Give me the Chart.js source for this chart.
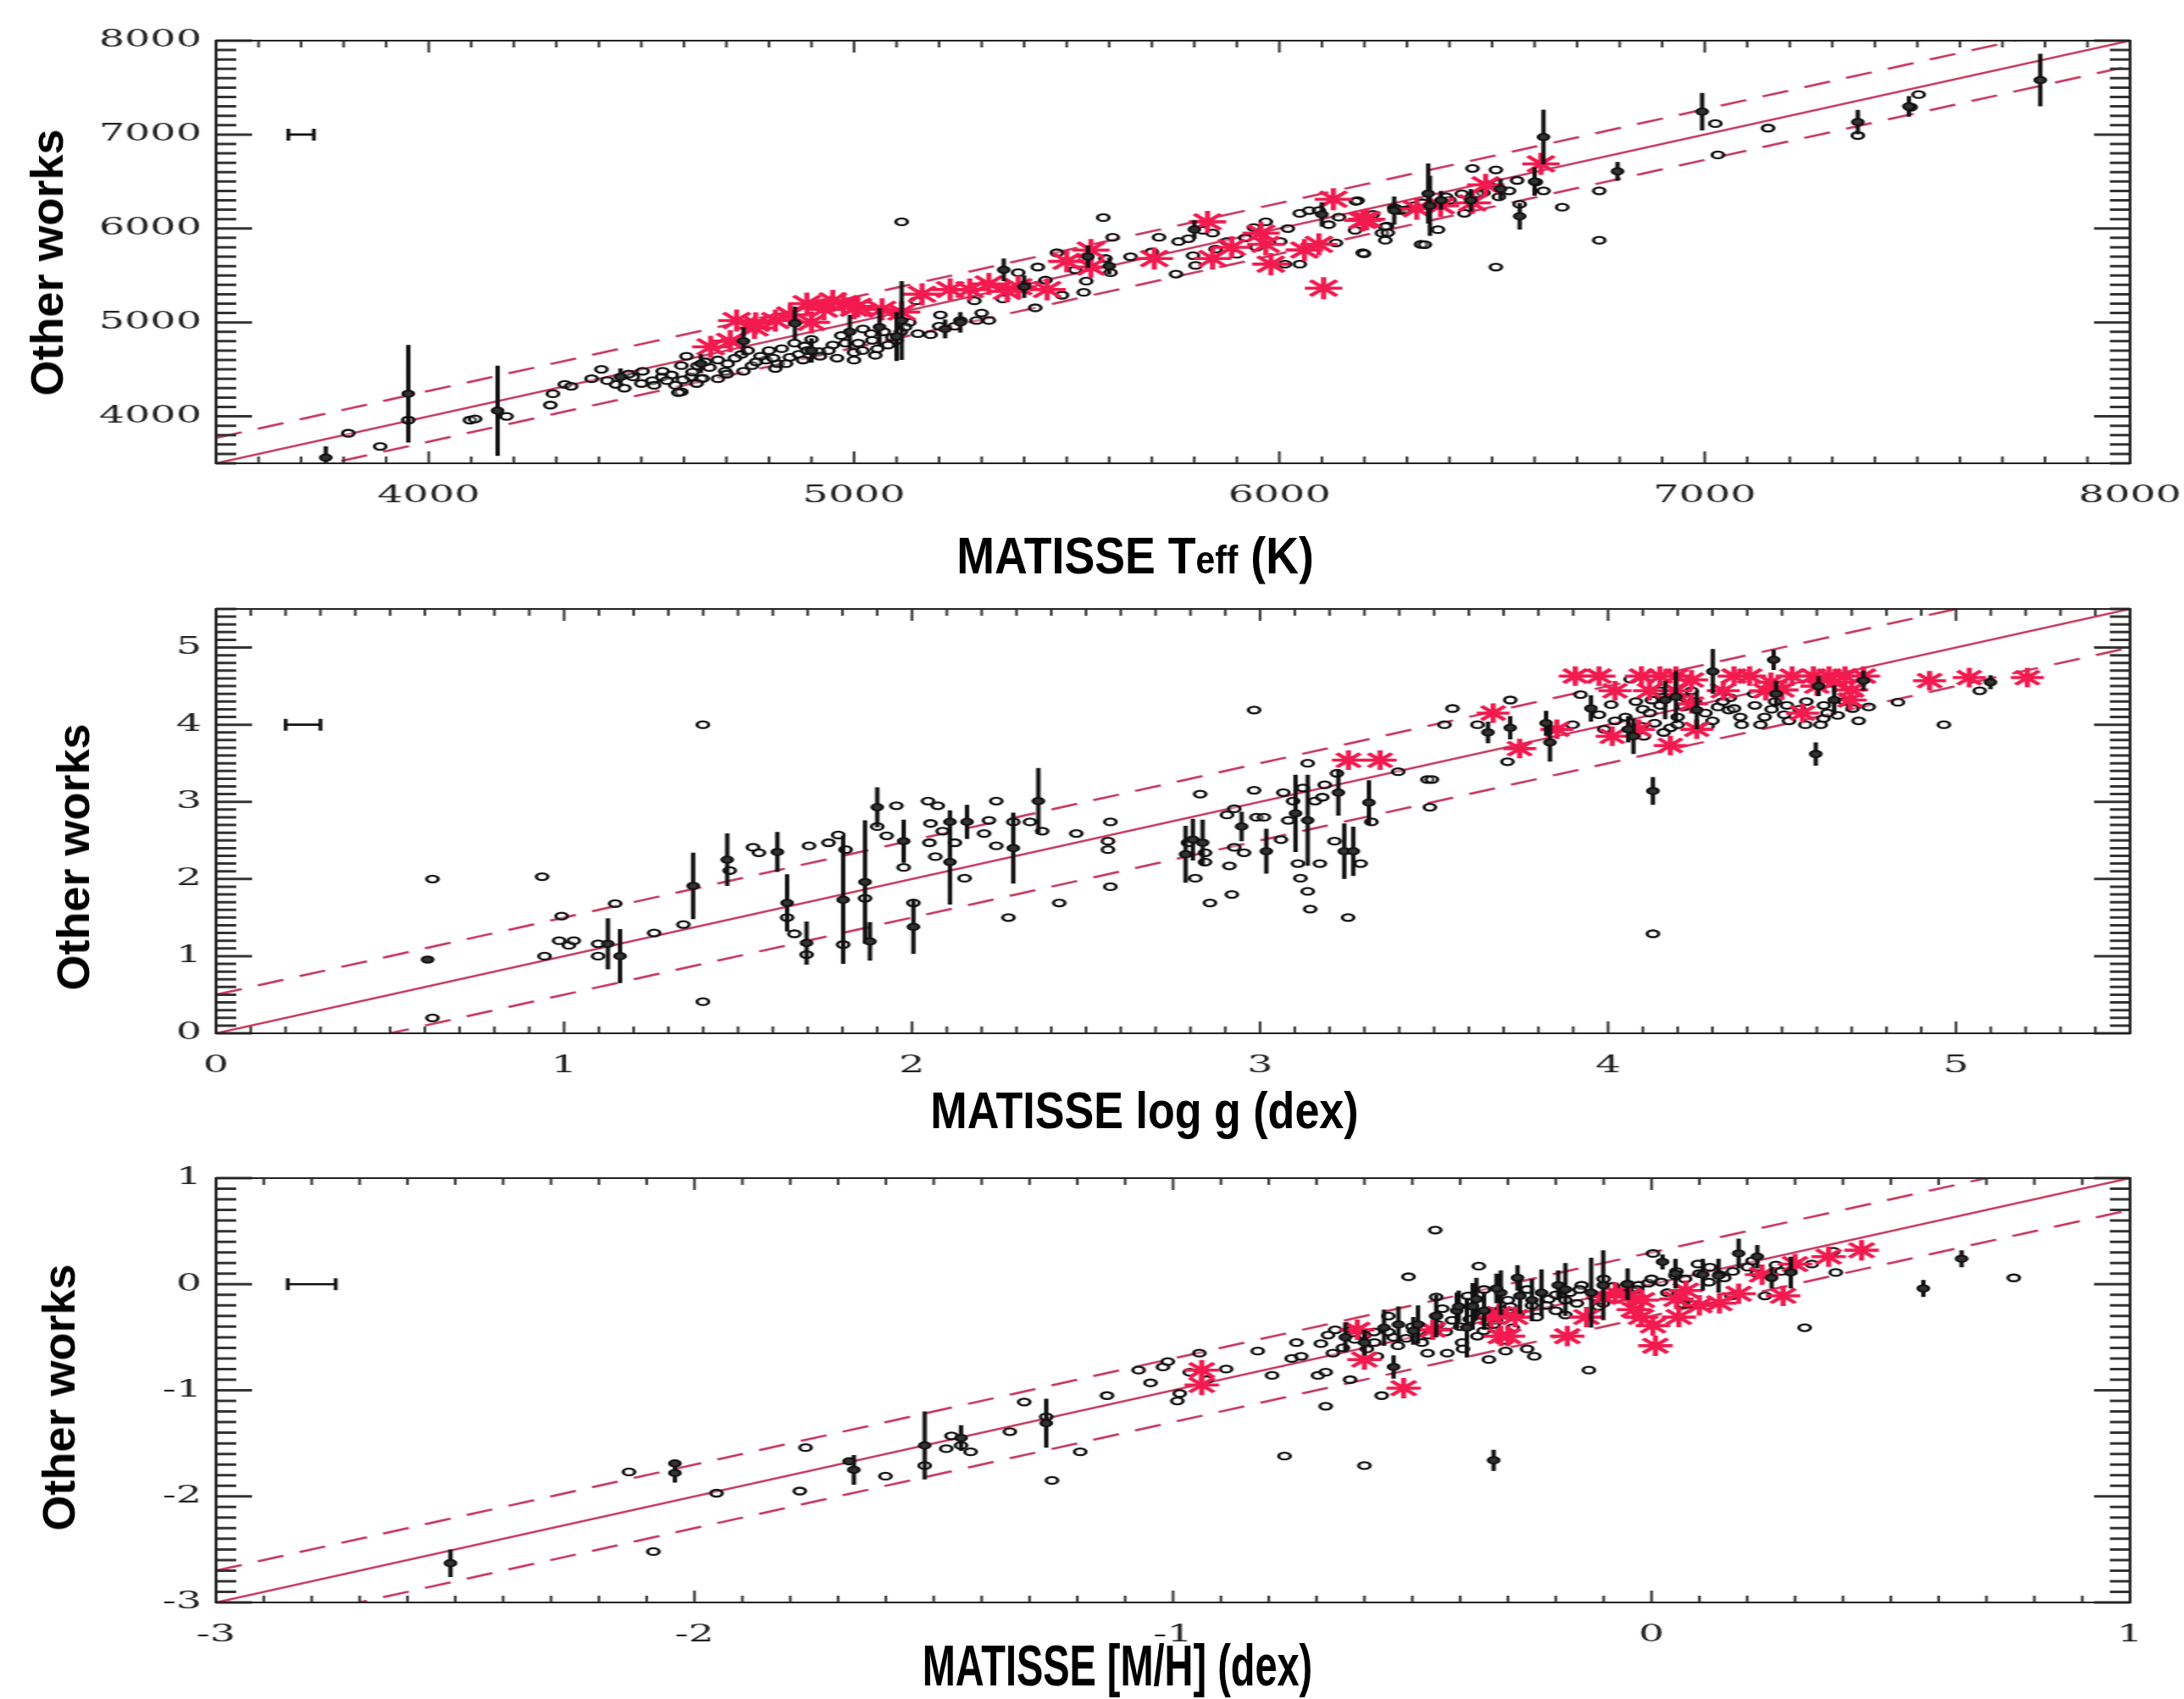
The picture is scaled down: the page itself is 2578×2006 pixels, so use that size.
<!DOCTYPE html>
<html><head><meta charset="utf-8">
<script src="https://cdn.jsdelivr.net/npm/chart.js@4.4.0/dist/chart.umd.min.js"></script>
<style>
html,body{margin:0;padding:0;background:#fff;}
body{width:2578px;height:2006px;position:relative;overflow:hidden;}
#stretch{position:absolute;left:0;top:0;width:1517px;height:2006px;transform:scaleX(1.7);transform-origin:0 0;}
#stretch canvas{position:absolute;left:0;}
.t{position:absolute;font-family:"Liberation Sans",Arial,Helvetica,sans-serif;font-weight:bold;color:#000;white-space:nowrap;line-height:1;}
.t sub{font-size:0.76em;vertical-align:baseline;}
</style></head><body>
<div id="stretch">
<canvas id="c1" width="1516" height="629" style="top:8px"></canvas>
<canvas id="c2" width="1516" height="631" style="top:679px"></canvas>
<canvas id="c3" width="1516" height="631" style="top:1351px"></canvas>
</div>
<div class="t" style="left:55px;top:310px;font-size:54px;transform:translate(-50%,-50%) rotate(-90deg)">Other works</div>
<div class="t" style="left:86px;top:1012px;font-size:54px;transform:translate(-50%,-50%) rotate(-90deg)">Other works</div>
<div class="t" style="left:69px;top:1650px;font-size:54px;transform:translate(-50%,-50%) rotate(-90deg)">Other works</div>
<div class="t" style="left:1340px;top:656px;font-size:61px;transform:translate(-50%,-50%) scaleX(0.88)">MATISSE T<sub>eff</sub> (K)</div>
<div class="t" style="left:1351px;top:1311px;font-size:62px;transform:translate(-50%,-50%) scaleX(0.84)">MATISSE log g (dex)</div>
<div class="t" style="left:1319px;top:1966px;font-size:68px;transform:translate(-50%,-50%) scaleX(0.69)">MATISSE [M/H] (dex)</div>
<script>
// ---------------- DATA ----------------
// Panel 1: Teff (K)
const teffRange = [3500, 8000];
const teffTicks = [4000, 5000, 6000, 7000, 8000];
const teffBand = 270;
const teffKey = [[3700, 7000, 30]];
const teffCircles = [[3811,3820],[3886,3680],[3952,3960],[4097,3960],[4109,3972],[4183,4000],[4286,4120],[4292,4240],[4320,4340],[4335,4320],[4383,4400],[4406,4500],[4480,4420],[4503,4480],[4526,4380],[4549,4420],[4571,4440],[4594,4260],[4594,4540],[4606,4640],[4617,4420],[4640,4400],[4697,4480],[4703,4560],
[4440,4340],[4460,4300],[4530,4330],[4560,4380],[4620,4470],[4660,4520],[4680,4400],
[4587,4253],[4598,4389],[4632,4539],[4644,4404],[4701,4449],[4735,4659],[4792,4599],[4815,4509],[4849,4629],[4884,4749],[4918,4689],[5000,4599],[5021,4930],[5043,4809],[5055,4719],[5100,4809],[5146,5230],[5180,4869],[5203,5080],[5237,4960],[5288,5020],[5317,5020],[5283,5230],[5386,5530],[5432,5590],[5426,5155],[5477,5741],[5489,5290],[5546,5440],[5540,5320],[5591,5680],[5603,5530],[5586,6116],[5608,5906],[5717,5906],[5757,5515],[5763,5861],[5786,5891],[5797,5711],[5803,5606],[5820,5981],[5843,5951],[5877,5861],[5900,5726],[5940,6011],[5946,5801],[5968,6071],[6002,5861],[6013,5620],[6048,5620],[6048,6161],[6070,6191],[6093,6191],[6116,6041],[6133,5846],[6178,5981],[6184,6297],[6196,5741],[6241,5951],[6253,6026],[6270,6221],[6282,6191],[6333,5831],[5112,6071],
[4750,4700],[4780,4640],[4830,4720],[4870,4660],[4900,4820],[4950,4760],[4970,4860],[5010,4780],[5040,4880],[5070,4900],[5090,4840],[4760,4540],[4820,4560],[4860,4780],[4940,4700],[5000,4680],[5110,4900],[5130,5000],
[4420,4380],[4470,4450],[4500,4350],[4550,4480],[4580,4330],[4630,4350],[4650,4580],[4680,4600],[4720,4620],[4740,4480],[4770,4580],[4800,4700],[4810,4620],[4840,4560],[4880,4600],[4890,4700],[4920,4640],[4960,4620],[4980,4780],[5020,4700],[5050,4650],[5080,4760],[5120,4950],[5150,4880],[5200,4960],[5250,5020],[5300,5100],[5350,5250],[5400,5400],[5450,5450],[5520,5560],[5650,5700],[5700,5750],[5850,5780],[5920,5900],[6020,6000],[6140,6120],[6220,6150],[6300,6200],[6400,6300],[6480,6380],
[6180,6289],[6199,6098],[6199,5732],[6249,6019],[6249,5875],[6255,5955],[6274,6210],[6293,6194],[6317,6242],[6342,5828],[6336,6273],[6373,5987],[6392,6337],[6429,6369],[6435,6162],[6454,6640],[6466,6369],[6491,6465],[6509,6624],[6516,6337],[6509,5589],[6540,6401],[6559,6512],[6565,6258],[6603,6496],[6621,6401],[6665,6226],[6752,6401],[6752,5875],[7025,7117],[7031,6783],[7149,7069],[7360,6990],[7484,7292],[7503,7426]];
const teffStars = [[4663,4740],[4709,4800],[4766,4940],[4724,5020],[4769,4990],[4815,5020],[4889,5200],[4929,5140],[4975,5200],[5009,5170],[5066,5140],[5112,5110],[5226,5350],[5272,5350],[5317,5410],[5386,5380],[5454,5350],[5500,5650],[5557,5770],[5557,5590],[5706,5680],[5831,6071],[5843,5680],[5888,5800],[5957,5951],[5968,5831],[6059,5771],[6093,5831],[5980,5620],[6104,5365],[6127,6312],[6196,6086],[6205,6098],[6323,6210],[6379,6242],[6454,6273],[6485,6465],[6615,6688],[4850,5080],[4950,5230],[5000,5150],[5160,5300],[5360,5330],[4900,5000]];
const teffErr = [[3952,4240,520],[4162,4060,480],[4451,4420,90],[4861,4989,180],[5112,5020,420],[5214,4930,100],[5352,5560,120],[6350,6372,320],[6354,6242,320],[6565,6130,140],[6621,6974,290],[6795,6608,100],[6994,7244,200],[7360,7133,130],[7789,7580,280],[3758,3560,120],[4740,4800,150],[5060,4950,200],[5550,5700,120],[5800,5990,100],[6100,6150,130],[6450,6300,120],[6270,6190,150],[7480,7300,110],
[4640,4560,100],[4900,4700,130],[4990,4900,180],[5100,4850,260],[5250,5000,110],[5400,5380,120],[5600,5600,90],[6380,6300,100],[6520,6420,110],[6600,6500,150]];

// Panel 2: log g (dex)
const loggRange = [0, 5.5];
const loggTicks = [0, 1, 2, 3, 4, 5];
const loggBand = 0.5;
const loggKey = [[0.25, 4, 0.05]];
const loggCircles = [[0.622,2.0],[0.622,0.2],[0.937,2.03],[0.993,1.52],[0.944,1.0],[0.986,1.2],[1.014,1.14],[1.028,1.2],[1.098,1.16],[1.098,1.0],[1.147,1.68],[1.259,1.3],[1.343,1.41],[1.399,4.0],[1.399,0.41],[1.476,2.11],[1.543,2.41],[1.56,2.34],
[1.641,1.50],[1.662,1.29],[1.697,1.02],[1.704,2.43],[1.760,2.47],[1.788,2.57],[1.802,1.15],[1.809,2.38],[1.865,1.75],[1.9,2.68],[1.927,2.56],[1.955,2.95],[1.976,2.15],[2.004,1.69],[2.046,3.01],[2.053,2.72],[2.050,2.47],[2.067,2.29],[2.074,2.95],[2.088,2.62],[2.123,2.47],[2.151,2.01],[2.207,2.59],[2.221,2.76],[2.242,3.01],[2.242,2.43],[2.277,1.50],[2.291,2.74],[2.339,2.74],[2.374,2.62],[2.423,1.69],[2.472,2.59],[2.570,2.74],[2.563,2.49],[2.563,2.38],[2.570,1.90],[2.793,2.47],[2.814,2.01],[2.828,3.10],[2.842,2.34],[2.842,2.22],[2.856,1.69],[2.905,2.83],[2.912,2.17],[2.919,1.80],[2.926,2.91],[2.926,2.41],[2.954,2.34],[2.983,3.15],[2.983,4.19],[2.990,2.80],[3.011,2.80],[3.060,2.51],[3.067,3.12],[3.081,2.76],[3.095,3.01],[3.109,2.20],[3.116,2.01],[3.123,3.18],[3.137,1.84],[3.144,1.61],[3.137,3.50],[3.158,3.01],[3.172,2.20],[3.179,3.06],[3.186,3.22],[3.214,2.49],[3.221,3.37],[3.253,1.50],[3.289,2.20],[3.320,2.74],[3.397,3.39],[3.481,3.29],[3.494,3.29],[3.488,2.93],
[3.530,4.0],[3.553,4.21],[3.625,4.0],[3.711,3.52],[3.719,4.32],[3.898,4.0],[3.921,4.39],[3.974,4.13],[3.989,3.94],[4.009,4.26],[4.065,4.59],[4.096,3.98],[4.103,3.85],[4.126,4.32],[4.129,1.29],[4.134,4.02],[4.149,4.44],[4.179,3.96],[4.217,4.23],[4.240,4.44],[4.286,3.98],[4.316,4.23],[4.347,4.19],[4.362,4.21],[4.384,4.0],[4.422,4.25],[4.438,4.0],[4.506,4.13],[4.514,4.25],[4.567,4.0],[4.611,4.0],[4.619,4.08],[4.703,4.21],[4.749,4.23],[4.833,4.29],[4.965,4.0],[5.068,4.44],
[4.05,4.1],[4.2,4.1],[4.25,4.3],[4.3,4.05],[4.45,4.1],[4.48,4.3],[4.55,4.2],[4.62,4.25],[4.66,4.12],[4.1,4.2],[4.35,4.35],[4.2,4.0],
[4.02,4.05],[4.08,4.3],[4.12,4.15],[4.16,3.9],[4.22,4.35],[4.28,4.15],[4.33,4.3],[4.38,4.1],[4.42,4.4],[4.47,4.2],[4.52,4.05],[4.57,4.3],[4.63,4.15],[4.68,4.3],[4.72,4.05],[4.15,4.25]];
const loggStars = [[3.254,3.54],[3.345,3.54],[3.670,4.15],[3.746,3.69],[3.853,3.94],[3.906,4.63],[3.974,4.63],[4.012,3.85],[4.020,4.44],[4.096,4.63],[4.149,4.63],[4.195,4.63],[4.088,3.94],[4.179,3.73],[4.240,4.27],[4.255,3.94],[4.362,4.63],[4.407,4.63],[4.468,4.55],[4.529,4.63],[4.590,4.63],[4.635,4.63],[4.681,4.63],[4.734,4.63],[4.696,4.32],[4.559,4.15],[4.924,4.57],[5.038,4.61],[5.205,4.61],[4.453,4.44],[4.331,4.44],[4.119,4.44],[4.195,4.44],[4.24,4.58],[4.5,4.45],[4.6,4.5],[4.7,4.45],[4.65,4.55]];
const loggErr = [[0.608,0.955,0.04],[1.126,1.16,0.33],[1.161,1.0,0.35],[1.371,1.91,0.43],[1.469,2.25,0.34],[1.613,2.35,0.26],[1.641,1.69,0.37],[1.697,1.17,0.28],[1.802,1.73,0.83],[1.865,1.96,0.8],[1.879,1.19,0.25],[1.9,2.93,0.26],[1.976,2.49,0.28],[2.004,1.38,0.35],[2.109,2.74,0.15],[2.109,2.22,0.55],[2.158,2.74,0.22],[2.291,2.4,0.46],[2.363,3.01,0.43],[2.786,2.32,0.37],[2.807,2.51,0.27],[2.835,2.47,0.3],[2.947,2.68,0.19],[3.018,2.36,0.29],[3.102,2.85,0.5],[3.137,2.76,0.59],[3.225,3.12,0.3],[3.242,2.36,0.36],[3.268,2.36,0.32],[3.313,2.99,0.29],[3.655,3.90,0.14],[3.719,3.96,0.15],[3.822,4.02,0.16],[3.833,3.77,0.25],[3.951,4.21,0.17],[4.058,3.94,0.17],[4.073,3.85,0.23],[4.129,3.14,0.18],[4.164,4.32,0.25],[4.195,4.36,0.34],[4.255,4.19,0.25],[4.301,4.69,0.29],[4.476,4.84,0.13],[4.483,4.40,0.17],[4.597,3.62,0.15],[4.605,4.50,0.13],[4.650,4.32,0.19],[4.734,4.57,0.13],[5.099,4.55,0.09]];

// Panel 3: [M/H] (dex)
const mhRange = [-3, 1];
const mhTicks = [-3, -2, -1, 0, 1];
const mhBand = 0.3;
const mhKey = [[-2.8, 0, 0.05]];
const mhCircles = [[-2.137,-1.77],[-2.086,-2.52],[-1.954,-1.97],[-1.768,-1.54],[-1.780,-1.95],[-1.601,-1.81],[-1.519,-1.71],[-1.474,-1.55],[-1.463,-1.43],[-1.443,-1.52],[-1.423,-1.58],[-1.341,-1.39],[-1.311,-1.11],[-1.265,-1.25],[-1.253,-1.85],[-1.194,-1.58],[-1.138,-1.05],[-1.072,-0.81],[-1.047,-0.93],[-1.021,-0.78],[-1.011,-0.73],[-0.991,-1.10],[-0.986,-1.03],[-0.965,-0.83],[-0.945,-0.65],[-0.930,-0.90],[-0.889,-0.80],[-0.823,-0.63],[-0.793,-0.86],[-0.767,-1.62],[-0.752,-0.70],[-0.742,-0.55],[-0.732,-0.68],[-0.697,-0.86],[-0.681,-1.15],[-0.681,-0.83],[-0.691,-0.56],[-0.676,-0.48],[-0.661,-0.43],[-0.666,-0.65],[-0.645,-0.60],[-0.630,-0.90],[-0.625,-0.43],[-0.600,-1.71],[-0.600,-0.48],[-0.595,-0.61],[-0.579,-0.55],[-0.574,-0.68],[-0.564,-1.05],[-0.539,-0.50],[-0.508,0.07],[-0.513,-0.51],[-0.468,-0.65],[-0.468,-0.48],[-0.452,0.51],[-0.447,-0.38],[-0.437,-0.23],[-0.427,-0.65],[-0.417,-0.34],[-0.396,-0.55],[-0.361,0.17],[-0.351,-0.44],[-0.340,-0.71],[-0.325,-0.34],[-0.310,-0.53],[-0.305,-0.63],[-0.295,-0.21],
[-0.394,-0.61],[-0.384,-0.11],[-0.364,-0.49],[-0.315,-0.24],[-0.290,-0.41],[-0.260,-0.61],[-0.245,-0.68],[-0.240,-0.31],[-0.215,-0.14],[-0.180,-0.29],[-0.171,-0.08],[-0.156,-0.18],[-0.146,-0.01],[-0.131,-0.81],[-0.111,-0.21],[-0.101,-0.18],[-0.066,-0.09],[-0.047,-0.08],[-0.027,-0.01],[-0.007,0.01],[0.003,0.29],[0.033,-0.08],[0.052,0.12],[0.067,-0.19],[0.087,-0.19],[0.097,0.19],[0.122,0.16],[0.142,0.09],[0.152,0.06],[0.167,-0.11],[0.201,0.16],[0.211,0.22],[0.237,-0.11],[0.271,0.12],[0.320,-0.41],[0.335,0.19],[0.380,0.31],[0.385,0.11],[0.757,0.06],
[-0.55,-0.45],[-0.5,-0.4],[-0.45,-0.3],[-0.35,-0.3],[-0.25,-0.2],[-0.2,-0.1],[-0.15,-0.05],[-0.1,0.05],[-0.05,0.0],[0.0,0.05],[0.05,0.08],[0.1,0.1],[-0.2,-0.25],[-0.3,-0.15],[-0.4,-0.4],
[-0.62,-0.52],[-0.58,-0.45],[-0.53,-0.58],[-0.48,-0.55],[-0.43,-0.45],[-0.38,-0.33],[-0.33,-0.38],[-0.28,-0.28],[-0.22,-0.2],[-0.18,-0.15],[-0.12,-0.12],[-0.08,-0.02],[-0.03,-0.05],[0.02,0.02],[0.07,0.05],[0.12,0.02],[0.17,0.12],[0.22,0.1],[0.26,0.18],[-0.26,-0.05],[-0.35,-0.05],[-0.45,-0.12],[-0.55,-0.3]];
const mhStars = [[-0.940,-0.81],[-0.940,-0.95],[-0.600,-0.71],[-0.518,-0.98],[-0.615,-0.43],[-0.457,-0.43],[-0.335,-0.31],[-0.315,-0.49],[-0.285,-0.31],[-0.319,-0.28],[-0.300,-0.49],[-0.176,-0.49],[-0.136,-0.31],[-0.047,-0.11],[-0.037,-0.24],[-0.022,-0.31],[0.003,-0.39],[0.008,-0.58],[0.052,-0.14],[0.057,-0.31],[0.142,-0.18],[0.182,-0.09],[0.231,0.09],[0.275,-0.11],[0.300,0.19],[0.370,0.26],[0.439,0.32],[-0.076,-0.08],[0.072,-0.06],[-0.02,-0.15],[0.1,-0.2],[-0.1,-0.12]];
const mhErr = [[-2.510,-2.63,0.13],[-2.041,-1.69,0.02],[-2.041,-1.78,0.09],[-1.667,-1.75,0.14],[-1.677,-1.67,0.03],[-1.519,-1.52,0.32],[-1.443,-1.45,0.12],[-1.265,-1.31,0.23],[-0.640,-0.50,0.14],[-0.559,-0.41,0.17],[-0.539,-0.78,0.11],[-0.529,-0.38,0.17],[-0.498,-0.44,0.13],[-0.488,-0.38,0.18],[-0.407,-0.25,0.17],[-0.386,-0.41,0.28],[-0.366,-0.14,0.2],[-0.330,-1.66,0.1],[-0.315,-0.08,0.21],[-0.280,0.06,0.12],[-0.403,-0.21,0.15],[-0.374,-0.21,0.22],[-0.324,-0.04,0.14],[-0.275,-0.11,0.17],[-0.230,-0.08,0.22],[-0.195,-0.01,0.14],[-0.126,-0.08,0.33],[-0.101,-0.01,0.33],[0.023,0.21,0.07],[0.107,0.09,0.15],[0.182,0.29,0.14],[0.221,0.26,0.11],[0.251,0.06,0.1],[0.291,0.11,0.15],[0.568,-0.04,0.08],[0.648,0.24,0.08],
[-0.6,-0.55,0.12],[-0.45,-0.3,0.2],[-0.35,-0.25,0.18],[-0.25,-0.15,0.2],[-0.18,-0.05,0.25],[-0.05,0.0,0.15],[0.05,0.1,0.14],[0.14,0.08,0.16]];

// ---------------- STYLE ----------------
const LINE_COL = '#c93a62';
const STAR_COL = '#f21a4e';
const INK = '#111111';
const TICK_FONT = {family: '"DejaVu Serif", "Liberation Serif", serif', size: 28};

function makePlugin(minor, major) {
  return {
    id: 'errbars',
    beforeDatasetDraw(chart, args) {
      const ds = chart.data.datasets[args.index];
      if (!ds.errKind) return;
      const ctx = chart.ctx, xs = chart.scales.x, ys = chart.scales.y, a = chart.chartArea;
      ctx.save();
      ctx.beginPath(); ctx.rect(a.left, a.top, a.right - a.left, a.bottom - a.top); ctx.clip();
      ctx.strokeStyle = INK; ctx.lineCap = 'butt';
      ctx.lineWidth = ds.errKind === 'y' ? 3 : 2.6;
      ctx.beginPath();
      ds.data.forEach(p => {
        if (ds.errKind === 'y') {
          const px = xs.getPixelForValue(p.x);
          ctx.moveTo(px, ys.getPixelForValue(p.y - p.e));
          ctx.lineTo(px, ys.getPixelForValue(p.y + p.e));
        } else {
          const py = ys.getPixelForValue(p.y);
          const x1 = xs.getPixelForValue(p.x - p.e), x2 = xs.getPixelForValue(p.x + p.e);
          ctx.moveTo(x1, py); ctx.lineTo(x2, py);
          ctx.moveTo(x1, py - 7); ctx.lineTo(x1, py + 7);
          ctx.moveTo(x2, py - 7); ctx.lineTo(x2, py + 7);
        }
      });
      ctx.stroke();
      ctx.restore();
    },
    afterDraw(chart) {
      const ctx = chart.ctx, xs = chart.scales.x, ys = chart.scales.y, a = chart.chartArea;
      const vals = (s) => {
        const out = [];
        const i0 = Math.ceil(s.min / minor - 1e-6), i1 = Math.floor(s.max / minor + 1e-6);
        for (let i = i0; i <= i1; i++) {
          const v = i * minor, r = v / major;
          out.push([s.getPixelForValue(v), Math.abs(r - Math.round(r)) < 1e-6]);
        }
        return out;
      };
      ctx.save();
      ctx.strokeStyle = '#333333';
      ctx.lineCap = 'butt';
      ctx.lineWidth = 1.8;
      ctx.beginPath();
      vals(xs).forEach(([px, maj]) => {
        const L = maj ? 14 : 8;
        ctx.moveTo(px, a.bottom); ctx.lineTo(px, a.bottom - L);
        ctx.moveTo(px, a.top); ctx.lineTo(px, a.top + L);
      });
      ctx.stroke();
      ctx.lineWidth = 3;
      ctx.beginPath();
      vals(ys).forEach(([py, maj]) => {
        const L = maj ? 25 : 14;
        ctx.moveTo(a.left, py); ctx.lineTo(a.left + L, py);
        ctx.moveTo(a.right, py); ctx.lineTo(a.right - L, py);
      });
      ctx.stroke();
      ctx.lineWidth = 2;
      ctx.strokeStyle = '#222222';
      ctx.strokeRect(a.left, a.top, a.right - a.left, a.bottom - a.top);
      ctx.restore();
    }
  };
}

function toPts(arr) { return arr.map(([x, y]) => ({x, y})); }
function toErr(arr) { return arr.map(([x, y, e]) => ({x, y, e})); }

function makeChart(id, range, ticks, band, circles, stars, errs, key, minor, major, starR) {
  const [lo, hi] = range;
  const datasets = [
    {data: [{x: lo, y: lo}, {x: hi, y: hi}], showLine: true, borderColor: LINE_COL, borderWidth: 2.5, pointRadius: 0, order: 10},
    {data: [{x: lo, y: lo + band}, {x: hi, y: hi + band}], showLine: true, borderColor: LINE_COL, borderWidth: 2.6, borderDash: [19, 12], pointRadius: 0, order: 10},
    {data: [{x: lo, y: lo - band}, {x: hi, y: hi - band}], showLine: true, borderColor: LINE_COL, borderWidth: 2.6, borderDash: [19, 12], pointRadius: 0, order: 10},
    {data: toPts(circles), pointStyle: 'circle', pointRadius: 4, borderWidth: 2.3, borderColor: INK, backgroundColor: 'rgba(255,255,255,0.3)', order: 8},
    {data: toPts(stars), pointStyle: 'star', pointRadius: starR, borderWidth: 3.6, borderColor: STAR_COL, backgroundColor: STAR_COL, order: 6},
    {data: toErr(errs), errKind: 'y', pointStyle: 'circle', pointRadius: 3.8, borderWidth: 2, borderColor: INK, backgroundColor: '#333', order: 2},
    {data: toErr(key), errKind: 'x', pointRadius: 0, order: 1}
  ];
  const fixTicks = vals => (scale) => { scale.ticks = vals.map(v => ({value: v})); };
  const fmt = v => String(v);
  return new Chart(document.getElementById(id), {
    type: 'scatter',
    data: {datasets},
    options: {
      responsive: false, animation: false, devicePixelRatio: 1,
      layout: {padding: {top: 40, right: 37, left: 0, bottom: 0}},
      plugins: {legend: {display: false}, tooltip: {enabled: false}},
      scales: {
        x: {type: 'linear', min: lo, max: hi, grid: {display: false, tickLength: 22}, border: {display: false},
            afterBuildTicks: fixTicks(ticks), afterFit: s => { s.height = 90; },
            ticks: {font: TICK_FONT, color: '#222', padding: 0, maxRotation: 0, autoSkip: false, callback: fmt}},
        y: {type: 'linear', min: lo, max: hi, grid: {display: false, tickLength: 0}, border: {display: false},
            afterBuildTicks: fixTicks(ticks), afterFit: s => { s.width = 150; },
            ticks: {font: TICK_FONT, color: '#222', padding: 10, autoSkip: false, callback: fmt}}
      }
    },
    plugins: [makePlugin(minor, major)]
  });
}

makeChart('c1', teffRange, teffTicks, teffBand, teffCircles, teffStars, teffErr, teffKey, 100, 1000, 13);
makeChart('c2', loggRange, loggTicks, loggBand, loggCircles, loggStars, loggErr, loggKey, 0.1, 1, 11.5);
makeChart('c3', mhRange, mhTicks, mhBand, mhCircles, mhStars, mhErr, mhKey, 0.1, 1, 12);
</script>
</body></html>
